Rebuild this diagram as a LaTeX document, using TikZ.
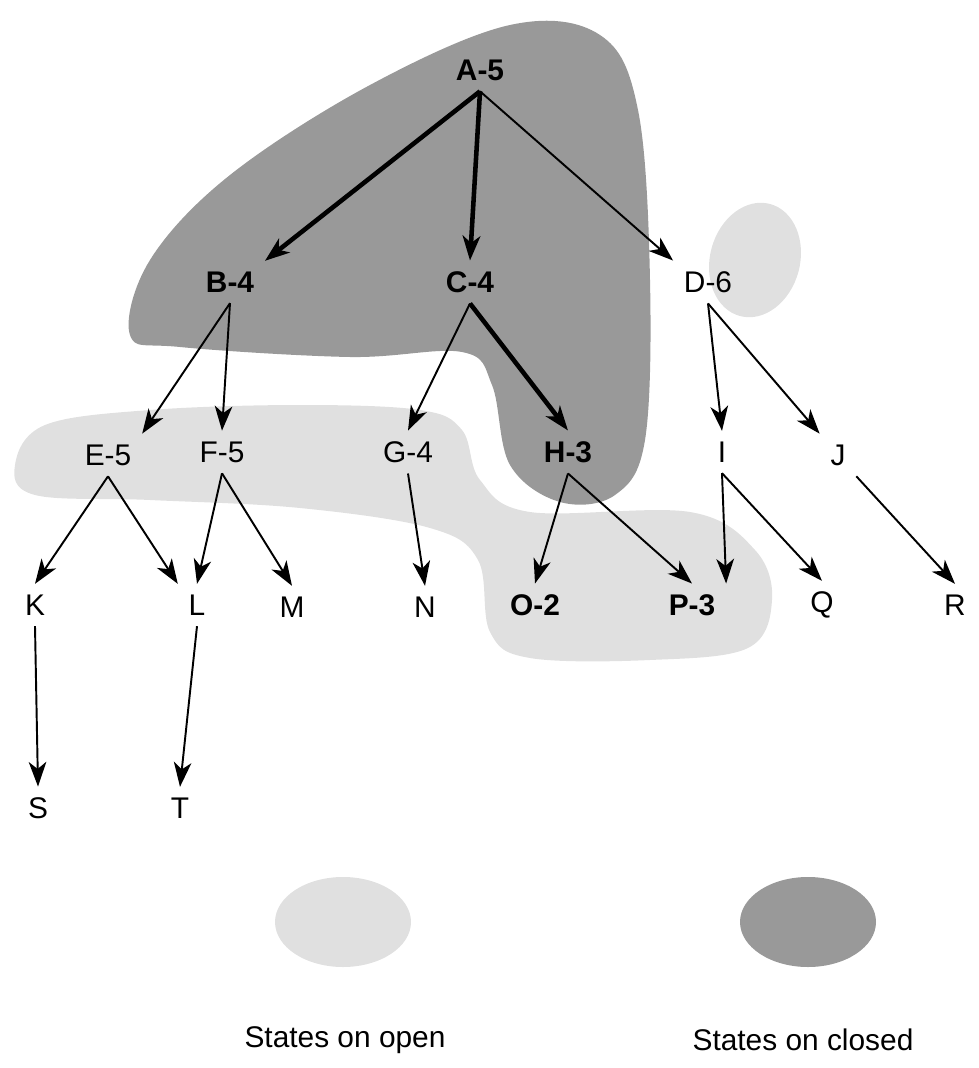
\documentclass[tikz,border=0pt]{standalone}
\usepackage{fontspec}
\setmainfont{Liberation Sans}
\usetikzlibrary{arrows.meta}
\begin{document}
\begin{tikzpicture}[x=0.02cm,y=-0.02cm,
 st/.style={font=\fontsize{17}{20}\selectfont,inner sep=6pt},
 bst/.style={st,font=\fontsize{17}{20}\selectfont\bfseries},
 ar/.style={-{Stealth[length=14pt,width=10pt,inset=4pt]},line width=1.1pt},
 tk/.style={ar,line width=2.6pt},
 lt/.style={fill=black!12},
 dk/.style={fill=black!40}]
\useasboundingbox (0,0) rectangle (978,1068);
% light regions
\fill[lt] plot[smooth cycle,tension=0.6] coordinates{(15,465)(45,425)(150,410)(300,405)(420,410)(462,430)(480,480)(530,512)(690,512)(755,550)(772,600)(748,648)(650,660)(530,658)(490,632)(478,560)(430,528)(300,508)(150,500)(35,495)};
\fill[lt,rotate around={-15:(755,260)}] (755,260) ellipse (45 and 58);
% dark region
\fill[dk] plot[smooth cycle,tension=0.6] coordinates{(130,335)(150,260)(230,175)(370,85)(510,25)(600,35)(638,110)(650,280)(645,440)(615,495)(560,502)(510,465)(492,385)(462,352)(350,357)(180,347)};
% legend
\fill[lt] (343,922) ellipse (68 and 45);
\fill[dk] (808,922) ellipse (68 and 45);
\node[st] at (345,1040) {States on open};
\node[st] at (803,1040) {States on closed};
% nodes
\node[bst] (A) at (480,70) {A-5};
\node[bst] (B) at (230,282) {B-4};
\node[bst] (C) at (470,282) {C-4};
\node[st] (D) at (708,282) {D-6};
\node[st] (E) at (108,455) {E-5};
\node[st] (F) at (222,452) {F-5};
\node[st] (G) at (408,452) {G-4};
\node[bst] (H) at (568,452) {H-3};
\node[st] (I) at (722,452) {I};
\node[st] (J) at (838,455) {J};
\node[st] (K) at (35,605) {K};
\node[st] (L) at (197,605) {L};
\node[st] (M) at (292,607) {M};
\node[st] (N) at (425,607) {N};
\node[bst] (O) at (535,605) {O-2};
\node[bst] (P) at (692,605) {P-3};
\node[st] (Q) at (822,605) {Q};
\node[st] (R) at (955,605) {R};
\node[st] (S) at (38,808) {S};
\node[st] (T) at (180,808) {T};
% edges
\draw[tk] (A.south) -- (B.north east);
\draw[tk] (A.south) -- (C.north);
\draw[ar] (A.south) -- (D.north west);
\draw[ar] (B.south) -- (E.north east);
\draw[ar] (B.south) -- (F.north);
\draw[ar] (C.south) -- (G.north);
\draw[tk] (C.south) -- (H.north);
\draw[ar] (D.south) -- (I.north);
\draw[ar] (D.south) -- (J.north west);
\draw[ar] (E.south) -- (K.north);
\draw[ar] (E.south) -- (L.north west);
\draw[ar] (F.south) -- (L.north);
\draw[ar] (F.south) -- (M.north);
\draw[ar] (G.south) -- (N.north);
\draw[ar] (H.south) -- (O.north);
\draw[ar] (H.south) -- (P.north);
\draw[ar] (I.south) -- (P.north east);
\draw[ar] (I.south) -- (Q.north);
\draw[ar] (J.south east) -- (R.north);
\draw[ar] (K.south) -- (S.north);
\draw[ar] (L.south) -- (T.north);
\end{tikzpicture}
\end{document}
